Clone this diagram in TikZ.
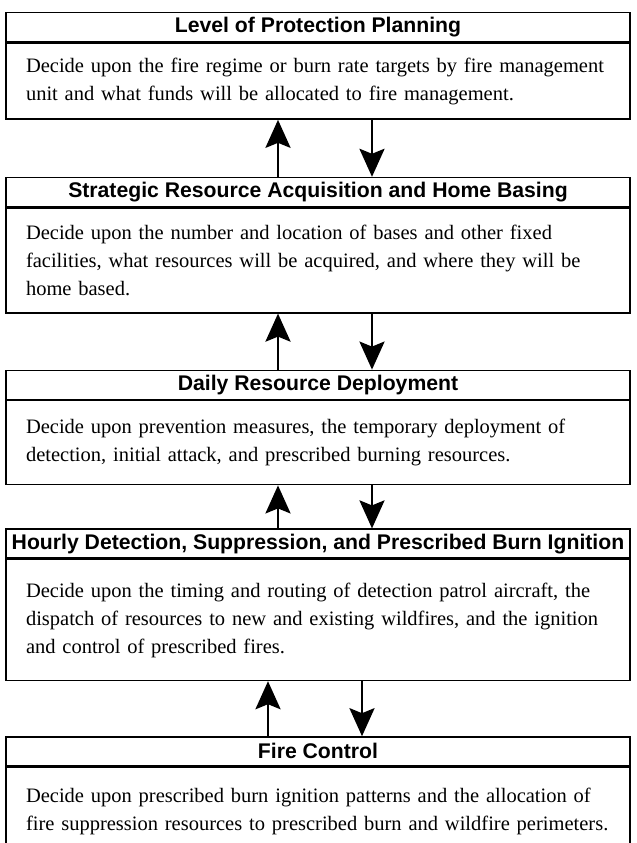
\documentclass[tikz,border=0pt]{standalone}
\usepackage{fontspec}
\setmainfont{Liberation Serif}
\setsansfont{Liberation Sans}
\usetikzlibrary{arrows.meta,positioning}

\begin{document}
\begin{tikzpicture}[
  font=\fontsize{10.25}{14}\selectfont,
  head/.style={draw, line width=0.7pt, minimum width=312pt, minimum height=14.5pt, inner sep=0pt,
    font=\fontsize{10.6}{12}\selectfont\sffamily\bfseries},
  body/.style={draw, line width=0.7pt, text width=292pt, inner xsep=10pt, inner ysep=0pt, align=left},
  link/.style={-{Stealth[length=14pt, width=12.5pt, inset=2.5pt]}, line width=1.4pt}
]
\useasboundingbox (0,0) rectangle (318.5pt,-421.5pt);

\node[head, anchor=north] (lop) at (159pt,-6pt) {Level of Protection Planning};
\node[body, minimum height=38pt, below=0pt of lop] (loptext) {Decide upon the fire regime or burn rate targets by fire management\\unit and what funds will be allocated to fire management.};

\node[head, below=28.5pt of loptext] (sra) {Strategic Resource Acquisition and Home Basing};
\node[body, minimum height=52.5pt, below=0pt of sra] (sratext) {Decide upon the number and location of bases and other fixed\\facilities, what resources will be acquired, and where they will be\\home based.};

\node[head, below=28pt of sratext] (drd) {Daily Resource Deployment};
\node[body, minimum height=42pt, below=0pt of drd] (drdtext) {Decide upon prevention measures, the temporary deployment of\\detection, initial attack, and prescribed burning resources.};

\node[head, below=21.5pt of drdtext] (hds) {Hourly Detection, Suppression, and Prescribed Burn Ignition};
\node[body, minimum height=60.5pt, below=0pt of hds] (hdstext) {Decide upon the timing and routing of detection patrol aircraft, the\\dispatch of resources to new and existing wildfires, and the ignition\\and control of prescribed fires.};

\node[head, below=27.5pt of hdstext] (fc) {Fire Control};
\node[body, minimum height=44pt, below=0pt of fc] (fctext) {Decide upon prescribed burn ignition patterns and the allocation of\\fire suppression resources to prescribed burn and wildfire perimeters.};

\draw[link] ([xshift=-20pt]sra.north) -- ([xshift=-20pt]loptext.south);
\draw[link] ([xshift=27pt]loptext.south) -- ([xshift=27pt]sra.north);
\draw[link] ([xshift=-20pt]drd.north) -- ([xshift=-20pt]sratext.south);
\draw[link] ([xshift=27pt]sratext.south) -- ([xshift=27pt]drd.north);
\draw[link] ([xshift=-20pt]hds.north) -- ([xshift=-20pt]drdtext.south);
\draw[link] ([xshift=27pt]drdtext.south) -- ([xshift=27pt]hds.north);
\draw[link] ([xshift=-25pt]fc.north) -- ([xshift=-25pt]hdstext.south);
\draw[link] ([xshift=22pt]hdstext.south) -- ([xshift=22pt]fc.north);

\end{tikzpicture}
\end{document}
